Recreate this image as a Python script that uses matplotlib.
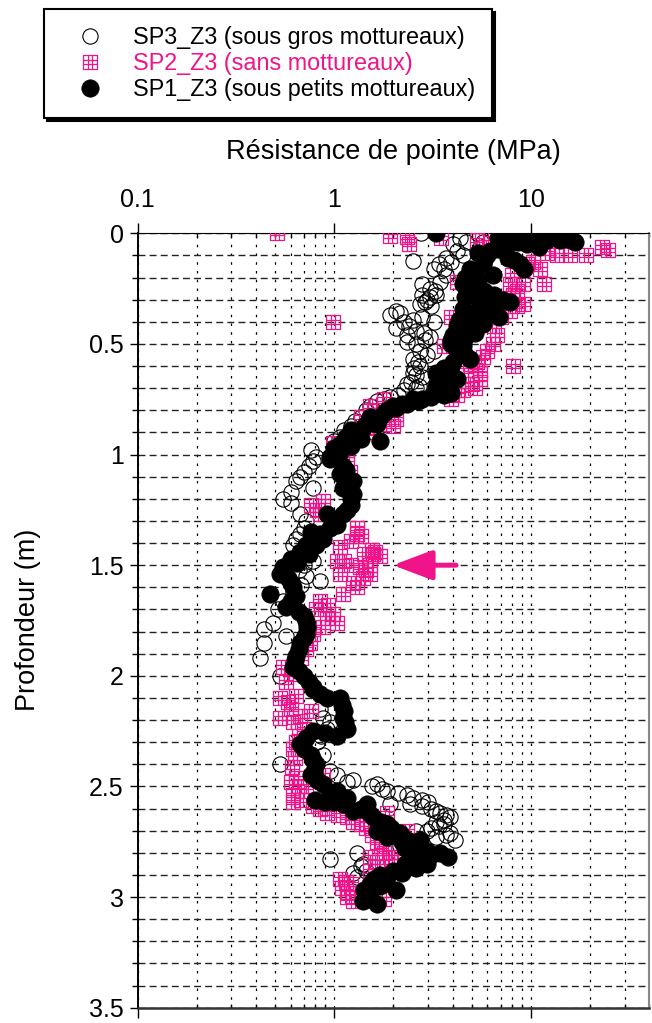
import matplotlib
matplotlib.use("Agg")
import matplotlib.pyplot as plt
import numpy as np
from matplotlib.path import Path
from matplotlib.ticker import FixedLocator, LogLocator, NullFormatter, MultipleLocator, FuncFormatter

plt.rcParams['font.family'] = ['Liberation Sans', 'DejaVu Sans']

MAGENTA = '#F0138A'

# ---------------- data (depth in m, cone resistance in MPa) ----------------
sp1_depth = [0.00, 0.01, 0.00, 0.01, 0.00, 0.01, 0.00, 0.01, 0.00, 0.02, 0.03, 0.04, 0.03, 0.03, 0.02, 0.04, 0.05, 0.02, 0.05, 0.06,
             0.07, 0.08, 0.10, 0.12, 0.14, 0.16, 0.12, 0.14, 0.16, 0.11, 0.09, 0.18, 0.19, 0.20, 0.21,
             0.23, 0.25, 0.26, 0.28, 0.30, 0.31, 0.29, 0.32, 0.33, 0.34, 0.36, 0.37, 0.38, 0.39, 0.40, 0.41, 0.42, 0.43, 0.44, 0.45, 0.46, 0.47, 0.48, 0.49,
             0.50, 0.51, 0.53, 0.55, 0.57, 0.58, 0.60, 0.61, 0.63, 0.64, 0.66, 0.67, 0.69, 0.71, 0.72, 0.73, 0.74, 0.75, 0.75, 0.77, 0.78, 0.80, 0.83, 0.86, 0.83, 0.86, 0.89, 0.89, 0.93, 0.94, 0.96, 0.99, 1.01,
             0.76, 0.77, 0.79, 0.81, 0.85, 0.88, 0.91, 0.92, 0.95, 0.97,
             1.02, 1.05, 1.07, 1.09, 1.12, 1.13, 1.15, 1.17, 1.18, 1.20, 1.23, 1.25, 1.27, 1.27, 1.30, 1.32, 1.33, 1.35, 1.36, 1.38, 1.41, 1.41, 1.44, 1.45, 1.47, 1.49, 1.51,
             1.54, 1.56, 1.58, 1.60, 1.63, 1.64, 1.66, 1.69, 1.71, 1.73, 1.75, 1.78, 1.81, 1.83, 1.85, 1.88, 1.91, 1.93, 1.96, 1.98, 2.00, 2.03, 2.05,
             2.06, 2.08, 2.10, 2.10, 2.13, 2.16, 2.19, 2.21, 2.24, 2.27, 2.25, 2.26, 2.28, 2.31, 2.33, 2.36, 2.38, 2.40, 2.43, 2.45, 2.47, 2.49, 2.52, 2.53, 2.55, 2.56, 2.57, 2.57, 2.58, 2.58, 2.60, 2.61,
             2.62, 2.64, 2.66, 2.67, 2.69, 2.70, 2.70, 2.71, 2.72, 2.73, 2.74, 2.74, 2.75, 2.76, 2.77, 2.78, 2.79, 2.80, 2.80, 2.81, 2.82, 2.83, 2.85, 2.85, 2.86, 2.87, 2.88, 2.89, 2.90, 2.91, 2.92, 2.94, 2.95, 2.97, 2.97, 2.99, 3.01, 3.03, 3.02]
sp1_q = [3.3, 7.3, 8.3, 9.3, 10.3, 11.3, 12.3, 13.3, 14.0, 15.0, 16.0, 16.8, 14.0, 12.0, 10.0, 8.6, 7.6, 6.8, 9.5, 11.0,
         6.8, 6.2, 6.0, 5.8, 5.7, 4.9, 8.2, 8.8, 9.2, 7.6, 5.4, 5.2, 6.4, 4.6, 5.4,
         4.5, 5.2, 5.8, 6.5, 7.2, 7.8, 4.6, 5.5, 6.4, 4.5, 5.0, 5.8, 6.9, 4.3, 4.9, 5.7, 4.2, 5.0, 4.4, 5.2, 4.0, 4.6, 3.9, 4.3,
         3.9, 4.5, 4.2, 4.6, 4.9, 4.0, 3.9, 3.6, 3.3, 3.8, 4.2, 3.6, 3.3, 3.3, 3.9, 3.6, 3.1, 2.8, 2.5, 2.2, 1.99, 1.85, 1.71, 1.65, 1.52, 1.45, 1.36, 1.21, 1.36, 1.71, 1.21, 1.07, 0.95,
         2.65, 2.35, 2.05, 1.78, 1.58, 1.40, 1.28, 1.15, 1.10, 1.00,
         0.95, 1.11, 1.15, 1.07, 1.25, 1.18, 1.11, 1.20, 1.25, 1.22, 1.21, 1.16, 1.11, 0.92, 0.99, 1.03, 0.95, 0.76, 0.85, 0.88, 0.81, 0.72, 0.67, 0.74, 0.60, 0.65, 0.55,
         0.53, 0.58, 0.60, 0.62, 0.47, 0.64, 0.60, 0.57, 0.66, 0.70, 0.72, 0.73, 0.72, 0.70, 0.67, 0.66, 0.64, 0.63, 0.62, 0.66, 0.70, 0.74, 0.78,
         0.78, 0.85, 0.92, 1.07, 1.10, 1.12, 1.11, 1.13, 1.16, 1.03, 0.78, 0.90, 0.72, 0.67, 0.70, 0.76, 0.78, 0.81, 0.79, 0.76, 0.82, 0.88, 1.03, 0.95, 1.16, 0.80, 0.90, 1.00, 1.11, 1.47, 1.36, 1.25,
         1.50, 1.58, 1.72, 1.85, 1.95, 2.00, 1.65, 2.16, 2.05, 1.85, 2.34, 2.73, 2.20, 2.45, 2.62, 2.30, 2.95, 3.45, 2.60, 3.10, 3.80, 2.70, 2.95, 2.30, 2.34, 2.60, 2.00, 2.20, 1.71, 1.85, 1.60, 1.52, 1.70, 1.42, 2.07, 1.50, 1.52, 1.65, 1.40]

sp3_depth = [0.00, 0.125, 0.00, 0.02, 0.04, 0.05, 0.04, 0.08, 0.10, 0.13, 0.11, 0.16, 0.16, 0.19, 0.14, 0.22, 0.23, 0.25, 0.28, 0.29, 0.28, 0.26, 0.30, 0.32, 0.31, 0.33,
             0.35, 0.37, 0.36, 0.40, 0.38, 0.40, 0.39, 0.43, 0.42, 0.46, 0.44, 0.47, 0.45, 0.50, 0.49, 0.48, 0.53, 0.53, 0.55, 0.57, 0.58, 0.60, 0.61, 0.63, 0.65, 0.64,
             0.68, 0.67, 0.71, 0.70, 0.69, 0.74, 0.75, 0.73, 0.76, 0.78, 0.80, 0.83, 0.85, 0.87, 0.89, 0.92, 0.94, 0.98, 1.01,
             1.03, 1.05, 1.08, 1.10, 1.12, 1.15, 1.17, 1.20, 1.22, 1.27, 1.30, 1.33, 1.36, 1.38, 1.41, 1.44, 1.46, 1.48, 1.48, 1.50,
             1.52, 1.55, 1.57, 1.59, 1.62, 1.66, 1.70, 1.76, 1.79, 1.82, 1.85, 1.92, 2.00,
             2.15, 2.19, 2.21, 2.24, 2.27, 2.30, 2.36, 2.40, 2.43, 2.45, 2.48, 2.47, 2.49, 2.50, 2.52, 2.51, 2.54, 2.53, 2.56, 2.55, 2.57,
             2.58, 2.58, 2.59, 2.60, 2.61, 2.62, 2.63, 2.64, 2.65, 2.66, 2.67, 2.68, 2.69, 2.70, 2.70, 2.71, 2.72, 2.74, 2.73, 2.77, 2.80, 2.83, 2.85, 2.86, 2.89, 2.88, 2.91]
sp3_q = [2.77, 2.5, 5.3, 4.35, 4.7, 4.0, 5.7, 4.2, 4.5, 3.9, 3.7, 3.6, 3.2, 3.7, 3.4, 3.45, 2.8, 3.07, 2.8, 3.07, 3.3, 3.25, 2.95, 2.73, 2.9, 3.1,
         2.07, 1.92, 2.15, 2.25, 2.8, 3.2, 2.5, 2.07, 2.4, 2.34, 2.6, 3.07, 2.85, 2.6, 2.34, 2.9, 2.73, 3.2, 2.95, 2.5, 2.65, 2.73, 2.55, 2.5, 2.8, 2.6,
         2.34, 2.45, 2.25, 2.6, 2.7, 1.92, 1.78, 2.1, 1.65, 1.52, 1.45, 1.36, 1.28, 1.21, 1.12, 1.07, 1.0, 0.76, 0.81,
         0.78, 0.74, 0.70, 0.67, 0.64, 0.78, 0.60, 0.55, 0.60, 0.67, 0.72, 0.70, 0.67, 0.64, 0.62, 0.72, 0.66, 0.60, 0.78, 0.70,
         0.66, 0.72, 0.85, 0.68, 0.62, 0.55, 0.52, 0.49, 0.44, 0.57, 0.44, 0.42, 0.53,
         0.85, 0.88, 0.95, 0.92, 0.86, 0.82, 0.88, 0.53, 0.95, 1.03, 1.16, 1.25, 1.65, 1.55, 1.85, 1.75, 2.34, 2.1, 2.8, 2.5, 3.0,
         1.92, 2.43, 2.8, 3.1, 3.3, 3.45, 3.7, 3.88, 3.6, 3.3, 3.6, 3.4, 3.1, 2.95, 2.6, 3.88, 3.7, 4.1, 3.3, 2.16, 1.3, 0.95, 1.4, 1.36, 1.25, 1.45, 1.3]

sp2_depth = [0.00, 0.01, 0.015, 0.05, 0.02, 0.03, 0.02, 0.04, 0.06, 0.10, 0.10, 0.06, 0.075, 0.10, 0.09, 0.16, 0.14, 0.13, 0.23, 0.23, 0.23, 0.28, 0.32, 0.35, 0.22, 0.38, 0.40, 0.46, 0.26, 0.30, 0.19, 0.33, 0.38, 0.42,
             0.51, 0.50, 0.53, 0.56, 0.58, 0.60, 0.59, 0.62, 0.63, 0.66, 0.68, 0.71, 0.73, 0.75, 0.64, 0.70,
             0.75, 0.78, 0.80, 0.83, 0.84, 0.86, 0.87, 0.88, 0.90, 0.92, 0.95, 0.94, 0.98, 0.97,
             1.02, 1.08, 1.21, 1.23, 1.25, 1.27, 1.33, 1.36, 1.37, 1.39, 1.42, 1.43, 1.44, 1.45, 1.45, 1.46, 1.48, 1.48, 1.50, 1.50, 1.51, 1.52,
             1.54, 1.54, 1.56, 1.58, 1.60, 1.63, 1.66, 1.68, 1.70, 1.72, 1.74, 1.76, 1.78, 1.81, 1.85, 1.88, 1.92, 1.96, 1.99, 2.03,
             2.09, 2.10, 2.12, 2.15, 2.16, 2.18, 2.19, 2.21, 2.24, 2.27, 2.30, 2.33, 2.37, 2.41, 2.45, 2.46, 2.48, 2.50, 2.52, 2.54, 2.56,
             2.57, 2.59, 2.60, 2.62, 2.63, 2.64, 2.66, 2.67, 2.62, 2.69, 2.70, 2.72, 2.75, 2.77, 2.80, 2.82, 2.82, 2.82, 2.84, 2.86, 2.88, 2.90, 2.92, 2.93, 2.94, 2.96, 2.98, 3.00, 3.01, 3.02]
sp2_q = [0.51, 1.92, 2.34, 2.4, 3.5, 5.3, 6.2, 6.7, 5.8, 15.7, 19.0, 23.0, 24.7, 13.5, 12.0, 11.1, 9.5, 10.2, 11.6, 9.1, 7.8, 8.1, 9.1, 7.8, 4.2, 3.9, 0.99, 6.7, 8.5, 7.5, 8.0, 8.5, 7.0, 6.5,
         3.6, 6.4, 6.0, 5.7, 5.3, 8.1, 4.9, 5.2, 5.5, 5.5, 5.0, 4.5, 4.2, 3.9, 4.7, 5.2,
         1.78, 1.52, 1.60, 1.36, 2.07, 1.78, 2.0, 1.55, 1.45, 1.30, 0.99, 1.20, 1.16, 1.05,
         1.16, 1.20, 0.88, 0.76, 0.82, 0.85, 1.30, 1.30, 1.36, 1.21, 1.07, 1.55, 1.62, 1.42, 1.58, 1.70, 1.03, 1.12, 1.52, 1.21, 1.35, 1.45,
         1.07, 1.52, 1.40, 1.25, 1.30, 1.11, 0.85, 0.93, 0.81, 0.99, 0.92, 1.03, 0.88, 0.78, 0.75, 0.72, 0.68, 0.55, 0.60, 0.57,
         0.64, 0.53, 0.58, 0.60, 0.76, 0.67, 0.53, 0.62, 0.70, 0.66, 0.64, 0.62, 0.63, 0.61, 0.88, 0.64, 0.60, 0.66, 0.72, 0.62, 0.68,
         0.62, 0.78, 0.85, 0.92, 1.05, 1.16, 1.25, 1.36, 1.85, 1.45, 2.34, 1.55, 1.65, 1.72, 1.80, 1.52, 1.92, 2.07, 1.65, 1.85, 1.52, 1.62, 1.07, 1.15, 1.21, 1.10, 1.18, 1.16, 1.78, 1.25]

labels = ['SP3_Z3 (sous gros mottureaux)', 'SP2_Z3 (sans mottureaux)', 'SP1_Z3 (sous petits mottureaux)']
x_ticks = [0.1, 1, 10]
x_ticklabels = ['0.1', '1', '10']
arrow_depth = 1.5
arrow_from, arrow_to = 4.16, 1.98

# ---------------- marker: square with 3x3 grid ----------------
a, t = 1.0, 1.0 / 3
verts = [(-a, -a), (a, -a), (a, a), (-a, a), (-a, -a),
         (-t, -a), (-t, a), (t, -a), (t, a),
         (-a, -t), (a, -t), (-a, t), (a, t)]
codes = [Path.MOVETO, Path.LINETO, Path.LINETO, Path.LINETO, Path.CLOSEPOLY,
         Path.MOVETO, Path.LINETO, Path.MOVETO, Path.LINETO,
         Path.MOVETO, Path.LINETO, Path.MOVETO, Path.LINETO]
grid_square = Path(verts, codes)

# ---------------- figure ----------------
W, H = 652, 1023
fig = plt.figure(figsize=(W / 100, H / 100), dpi=100)
left, right, top, bottom = 137.6, 649.4, 233.3, 1007.7
ax = fig.add_axes([left / W, 1 - bottom / H, (right - left) / W, (bottom - top) / H])
ax.set_xscale('log')
ax.set_xlim(0.1, 40)
ax.set_ylim(3.5, 0)
ax.set_axisbelow(True)

h3, = ax.plot(sp3_q, sp3_depth, linestyle='none', marker='o', ms=11, mfc='none', mec='black', mew=0.8, zorder=3)
h2, = ax.plot(sp2_q, sp2_depth, linestyle='none', marker=grid_square, ms=10, mfc='none', mec=MAGENTA, mew=0.9, zorder=4)
h1, = ax.plot(sp1_q, sp1_depth, linestyle='none', marker='o', ms=12.5, mfc='black', mec='black', mew=0.5, zorder=5)

# axes styling
ax.xaxis.tick_top()
ax.xaxis.set_label_position('top')
ax.xaxis.set_major_locator(FixedLocator(x_ticks))
ax.set_xticklabels(x_ticklabels)
ax.xaxis.set_minor_locator(LogLocator(base=10, subs=np.arange(2, 10)))
ax.xaxis.set_minor_formatter(NullFormatter())
ax.yaxis.set_major_locator(MultipleLocator(0.5))
ax.yaxis.set_minor_locator(MultipleLocator(0.1))
ax.yaxis.set_major_formatter(FuncFormatter(lambda v, p: '%g' % v))

ax.tick_params(axis='x', which='major', top=True, bottom=True, direction='out', length=7, width=1, labelsize=18, pad=8)
ax.tick_params(axis='x', which='minor', top=True, bottom=True, direction='in', length=3, width=1)
ax.tick_params(axis='y', which='major', left=True, right=False, direction='out', length=6, width=1, labelsize=18, pad=4)
ax.tick_params(axis='y', which='minor', left=True, right=False, direction='out', length=4, width=1)

ax.grid(True, which='both', axis='x', color='black', linestyle=(0, (2, 5)), linewidth=0.9)
ax.grid(True, which='both', axis='y', color='#222222', linestyle=(0, (5, 3)), linewidth=1.0)

ax.spines['left'].set_linewidth(1.4)
ax.spines['bottom'].set_linewidth(1.8)
ax.spines['bottom'].set_color('#333333')
ax.spines['right'].set_color('#888888')
ax.spines['right'].set_linewidth(1.5)
ax.spines['top'].set_linewidth(0.8)

ax.set_xlabel('Résistance de pointe (MPa)', fontsize=19.5, labelpad=21)
fig.text(28 / W, 1 - 620 / H, 'Profondeur (m)', rotation=90, fontsize=19.5, ha='center', va='center')

ax.annotate('', xy=(arrow_to, arrow_depth), xytext=(arrow_from, arrow_depth),
            arrowprops=dict(arrowstyle='-|>,head_length=1.2,head_width=0.45', color=MAGENTA, lw=3.6,
                            shrinkA=0, shrinkB=0, mutation_scale=20), zorder=6)

leg = fig.legend([h3, h2, h1], labels, loc='upper left', bbox_to_anchor=(44 / W, 1 - 9 / H),
                 fontsize=16.8, frameon=True, fancybox=False, edgecolor='black',
                 shadow={'color': 'black', 'alpha': 1}, borderpad=0.72, labelspacing=0.14,
                 handlelength=2.5, handletextpad=0.6, borderaxespad=0)
leg.get_frame().set_linewidth(1.5)
leg.get_texts()[1].set_color(MAGENTA)

fig.savefig('out.png', dpi=100)
